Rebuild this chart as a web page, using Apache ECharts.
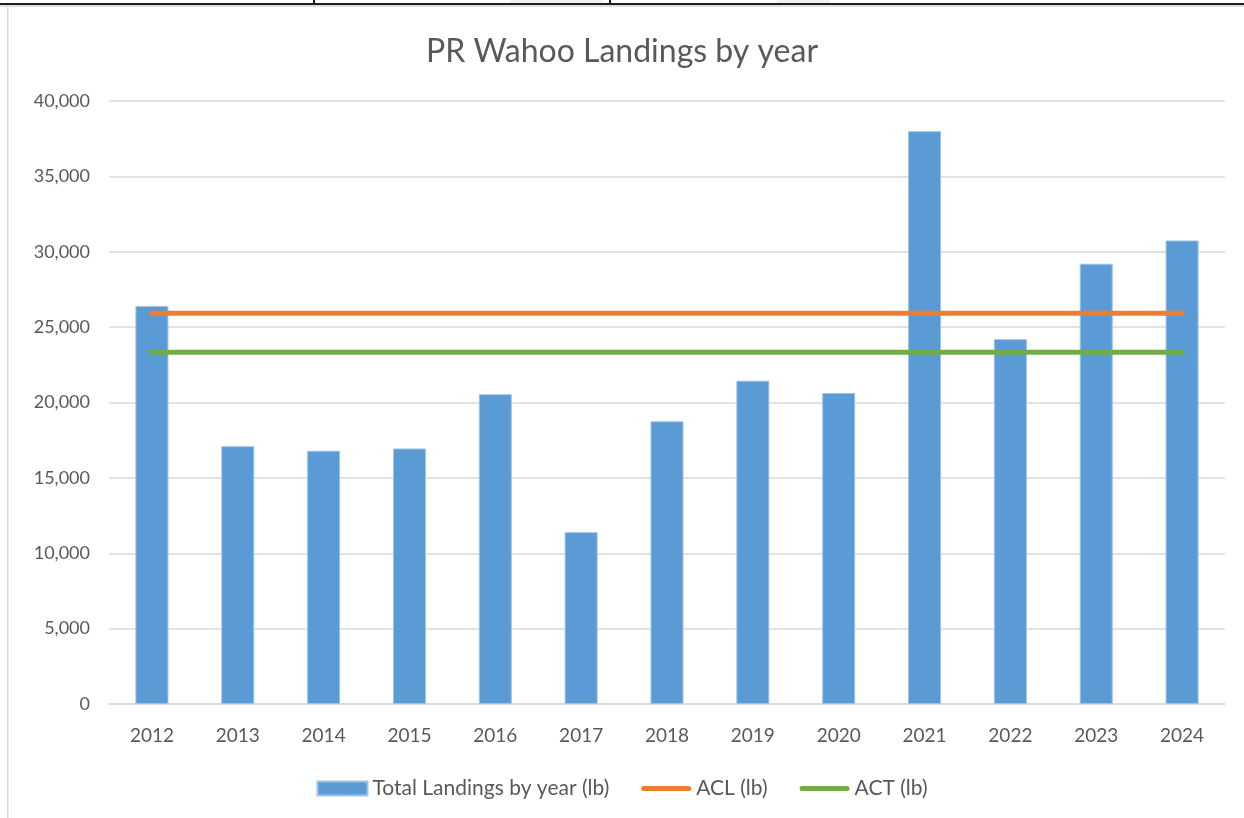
<!DOCTYPE html>
<html>
<head>
<meta charset="utf-8">
<title>PR Wahoo Landings by year</title>
<script src="https://cdn.jsdelivr.net/npm/echarts@6/dist/echarts.min.js"></script>
<style>
  html, body { margin: 0; padding: 0; background: #fff; }
  #chart { width: 1244px; height: 818px; }
</style>
</head>
<body>
<div id="chart"></div>
<script>
var years = ['2012', '2013', '2014', '2015', '2016', '2017', '2018', '2019', '2020', '2021', '2022', '2023', '2024'];
var landings = [26400, 17100, 16800, 16950, 20550, 11400, 18750, 21450, 20630, 38000, 24200, 29200, 30750];
var aclData = [25920, 25920, 25920, 25920, 25920, 25920, 25920, 25920, 25920, 25920, 25920, 25920, 25920];
var actData = [23330, 23330, 23330, 23330, 23330, 23330, 23330, 23330, 23330, 23330, 23330, 23330, 23330];
var seriesNames = ['Total Landings by year (lb)', 'ACL (lb)', 'ACT (lb)'];

var myChart = echarts.init(document.getElementById('chart'));
var font = 'Lato, "Open Sans", sans-serif';
var textColor = '#595959';
var lineIcon = 'path://M2.5,0 L47.5,0 A2.5,2.5 0 0 1 47.5,5 L2.5,5 A2.5,2.5 0 0 1 2.5,0 Z';

var option = {
    animation: false,
    backgroundColor: '#ffffff',
    textStyle: { fontFamily: font },
    title: {
        text: 'PR Wahoo Landings by year',
        left: 'center',
        top: 31,
        textStyle: { fontFamily: font, fontSize: 32, fontWeight: 'normal', color: textColor }
    },
    grid: {
        left: 109,
        right: 19,
        top: 101,
        bottom: 114,
        containLabel: false
    },
    legend: {
        data: [
            { name: seriesNames[0], icon: 'rect' },
            { name: seriesNames[1], icon: lineIcon },
            { name: seriesNames[2], icon: lineIcon }
        ],
        left: 'center',
        top: 773,
        itemWidth: 50,
        itemHeight: 14,
        itemGap: 32,
        textStyle: { fontFamily: font, fontSize: 21, color: textColor }
    },
    xAxis: {
        type: 'category',
        data: years,
        boundaryGap: true,
        axisTick: { show: false },
        axisLine: { lineStyle: { color: '#d9d9d9', width: 1.5 } },
        axisLabel: { color: textColor, fontSize: 19, fontFamily: font, margin: 22 }
    },
    yAxis: {
        type: 'value',
        min: 0,
        max: 40000,
        interval: 5000,
        axisLine: { show: false },
        axisTick: { show: false },
        splitLine: { lineStyle: { color: '#d9d9d9', width: 1.5 } },
        axisLabel: {
            color: textColor,
            fontSize: 18,
            fontFamily: font,
            margin: 19,
            formatter: function (v) { return v.toLocaleString('en-US'); }
        }
    },
    series: [{
        name: seriesNames[0],
        type: 'bar',
        data: landings,
        barWidth: 33,
        itemStyle: {
            color: '#5b9bd5',
            borderColor: '#9dc3e6',
            borderWidth: 1
        }
    }, {
        name: seriesNames[1],
        type: 'line',
        data: aclData,
        symbol: 'none',
        lineStyle: { color: '#ed7d31', width: 5, cap: 'round' },
        itemStyle: { color: '#ed7d31' }
    }, {
        name: seriesNames[2],
        type: 'line',
        data: actData,
        symbol: 'none',
        lineStyle: { color: '#70ad47', width: 5, cap: 'round' },
        itemStyle: { color: '#70ad47' }
    }],
    graphic: [
        // spreadsheet cell border showing at the top of the capture
        { type: 'rect', shape: { x: 510, y: 0, width: 93, height: 3 }, style: { fill: '#f2f2f2' }, z: 100 },
        { type: 'rect', shape: { x: 777, y: 0, width: 53, height: 3 }, style: { fill: '#f2f2f2' }, z: 100 },
        { type: 'rect', shape: { x: 0, y: 3, width: 1244, height: 2 }, style: { fill: '#1f1f1f' }, z: 100 },
        { type: 'rect', shape: { x: 0, y: 5, width: 1244, height: 2 }, style: { fill: '#e0e0e0' }, z: 100 },
        { type: 'rect', shape: { x: 313, y: 0, width: 2, height: 4 }, style: { fill: '#1f1f1f' }, z: 100 },
        { type: 'rect', shape: { x: 609, y: 0, width: 2, height: 4 }, style: { fill: '#1f1f1f' }, z: 100 },
        // chart frame on the left
        { type: 'rect', shape: { x: 7, y: 7, width: 1.5, height: 811 }, style: { fill: '#d9d9d9' }, z: 100 }
    ]
};

myChart.setOption(option);
</script>
</body>
</html>
